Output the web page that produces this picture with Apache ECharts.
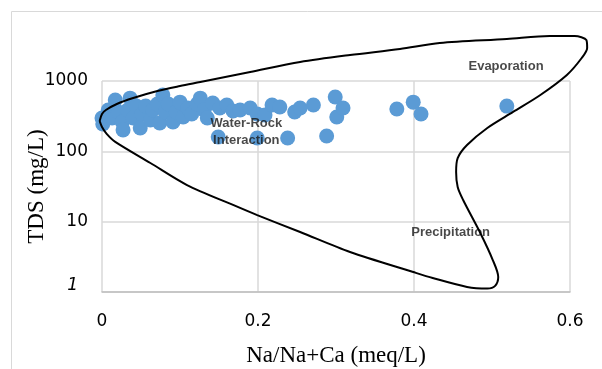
<!DOCTYPE html>
<html>
<head>
<meta charset="utf-8">
<script src="https://cdn.jsdelivr.net/npm/echarts@6/dist/echarts.min.js"></script>
<style>
  html, body { margin: 0; padding: 0; background: #fff; }
  #chart { width: 602px; height: 369px; }
</style>
</head>
<body>
<div id="chart"></div>
<script>
(function () {

    // sample points: Na/(Na+Ca) and TDS (mg/L)
    var sampleRatio = [
        0.000, 0.001, 0.008, 0.013, 0.017, 0.021, 0.026, 0.027, 0.033, 0.036,
        0.040, 0.044, 0.049, 0.051, 0.056, 0.062, 0.065, 0.071, 0.074, 0.078,
        0.081, 0.085, 0.091, 0.095, 0.100, 0.104, 0.110, 0.115, 0.122, 0.126,
        0.131, 0.135, 0.142, 0.151, 0.160, 0.168, 0.177, 0.190, 0.199, 0.209,
        0.218, 0.228, 0.247, 0.254, 0.271, 0.299, 0.301, 0.309, 0.378, 0.399,
        0.409, 0.519, 0.149, 0.199, 0.238, 0.288
    ];
    var sampleTDS = [
        298, 245, 387, 298, 537, 363, 261, 201, 387, 570,
        298, 440, 215, 340, 440, 279, 387, 471, 253, 632,
        363, 471, 261, 363, 500, 308, 413, 340, 471, 570,
        387, 298, 487, 413, 456, 375, 387, 413, 340, 329,
        456, 427, 363, 413, 456, 592, 308, 413, 400, 500,
        340, 440, 160, 155, 155, 165
    ];

    // Gibbs boundary envelope, traced round from the left nose
    var boundaryRatio = [
        -0.003, 0.000, 0.005, 0.019, 0.040, 0.071, 0.100, 0.126, 0.190, 0.254,
        0.318, 0.382, 0.433, 0.519, 0.574, 0.606, 0.621, 0.622, 0.615, 0.596,
        0.562, 0.527, 0.494, 0.468, 0.456, 0.454, 0.456, 0.463, 0.485, 0.501,
        0.508, 0.504, 0.494, 0.468, 0.424, 0.399, 0.318, 0.254, 0.199, 0.168,
        0.109, 0.062, 0.017, 0.006, 0.000, -0.003
    ];
    var boundaryTDS = [
        270, 340, 387, 471, 573, 721, 849, 968, 1343, 1862,
        2344, 2852, 3470, 3955, 4365, 4365, 3828, 2946, 2125, 1218,
        632, 363, 215, 123, 80.4, 50.9, 31.1, 20.3, 6.90, 2.85,
        1.63, 1.22, 1.12, 1.18, 1.58, 1.92, 3.70, 7.13, 12.4, 17.3,
        33.2, 68.3, 136, 177, 222, 270
    ];

    var zoneNames = ['Evaporation', 'Water-Rock\nInteraction', 'Precipitation'];
    var zoneRatio = [0.518, 0.185, 0.447];
    var zoneTDS = [1634, 188, 7.13];

    var samples = sampleRatio.map(function (x, i) { return [x, sampleTDS[i]]; });
    var boundary = boundaryRatio.map(function (x, i) { return [x, boundaryTDS[i]]; });
    var zones = zoneNames.map(function (n, i) { return { name: n, value: [zoneRatio[i], zoneTDS[i]] }; });

    // the envelope runs past the plot box, so it gets a wider hidden grid
    // with the same scale: 780 px per unit on x, 70.33 px per decade on y
    var pxX = 780, pxDec = 70.33;
    var wideX = [-0.02, 0.64];

    var chart = echarts.init(document.getElementById('chart'));

    chart.setOption({
        animation: false,
        graphic: [{
            type: 'rect', silent: true,
            shape: { x: 11.5, y: 11.5, width: 620, height: 400 },
            style: { fill: 'none', stroke: '#d9d9d9', lineWidth: 1 }
        }],
        grid: [
            { left: 102, right: 32, top: 81, bottom: 77, outerBoundsMode: 'none' },
            { left: 102 + wideX[0] * pxX, width: (wideX[1] - wideX[0]) * pxX,
              top: 292 - 4 * pxDec, bottom: 77, outerBoundsMode: 'none' }
        ],
        xAxis: [{
            type: 'value', min: 0, max: 0.6, interval: 0.2,
            name: 'Na/Na+Ca (meq/L)', nameLocation: 'middle', nameGap: 52,
            nameMoveOverlap: false,
            nameTextStyle: { fontFamily: 'Liberation Serif', fontSize: 23, color: '#000' },
            axisLine: { show: true, lineStyle: { color: '#bfbfbf', width: 1.5 } },
            axisTick: { show: false },
            splitLine: { lineStyle: { color: '#d9d9d9', width: 1.5 } },
            axisLabel: { fontFamily: 'DejaVu Sans', fontSize: 17, color: '#000', margin: 21 }
        }, {
            type: 'value', gridIndex: 1, min: wideX[0], max: wideX[1], show: false
        }],
        yAxis: [{
            type: 'log', logBase: 10, min: 1, max: 1000,
            name: 'TDS (mg/L)', nameLocation: 'middle', nameGap: 54, nameRotate: 90,
            nameMoveOverlap: false,
            nameTextStyle: { fontFamily: 'Liberation Serif', fontSize: 23, color: '#000' },
            axisLine: { show: false },
            axisTick: { show: false },
            splitLine: { lineStyle: { color: '#d9d9d9', width: 1.5 } },
            axisLabel: {
                fontFamily: 'DejaVu Sans', fontSize: 17, color: '#000', margin: 14,
                formatter: function (v) { return v === 1 ? '{i|1}' : String(v); },
                rich: { i: { fontFamily: 'DejaVu Sans', fontSize: 17, fontStyle: 'italic', color: '#000', padding: [0, 10, 12, 0] } }
            }
        }, {
            type: 'log', logBase: 10, gridIndex: 1, min: 1, max: 10000, show: false
        }],
        series: [
            { type: 'scatter', data: samples, symbolSize: 15,
              itemStyle: { color: '#5b9bd5', opacity: 1 } },
            { type: 'line', xAxisIndex: 1, yAxisIndex: 1, data: boundary,
              smooth: 0.3, symbol: 'none', clip: false,
              lineStyle: { color: '#000', width: 2 } },
            { type: 'scatter', data: zones, symbolSize: 0, clip: false,
              label: {
                  show: true, position: 'inside', formatter: '{b}',
                  fontFamily: 'Liberation Sans', fontWeight: 'bold', fontSize: 13,
                  lineHeight: 17, color: '#1a1a1a'
              } }
        ]
    });

})();
</script>
</body>
</html>
